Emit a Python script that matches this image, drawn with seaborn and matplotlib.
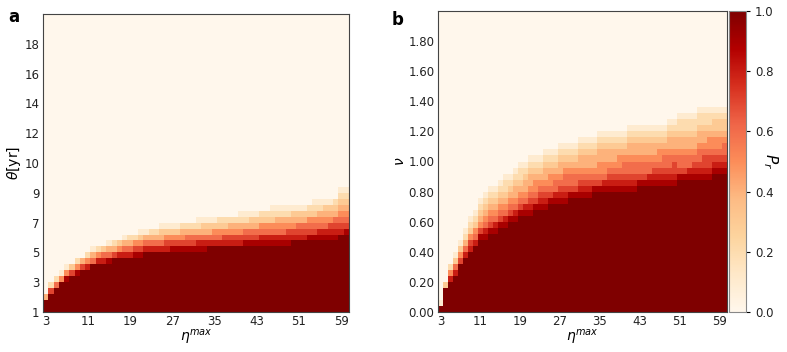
import numpy as np
import pandas as pd
import seaborn as sns
from matplotlib import pyplot as plt

# x categories (eta max) shared by both panels
eta = list(range(3, 61))
n_rows = 50

theta_ticks = ['1', '3', '5', '7', '9', '10', '12', '14', '16', '18']
nu_ticks = ['0.00', '0.20', '0.40', '0.60', '0.80', '1.00', '1.20', '1.40', '1.60', '1.80']
cbar_ticks = [0.0, 0.2, 0.4, 0.6, 0.8, 1.0]

# per column: number of fully dark cells from the bottom, then the fading
# cells above them (digits = tenths)
a_dark = [2, 3, 4, 5, 5, 6, 6, 7, 7, 8,
          8, 8, 8, 9, 9, 9, 9, 9, 9, 10,
          10, 10, 10, 10, 10, 10, 10, 10, 10, 10,
          10, 11, 11, 11, 11, 11, 11, 11, 11, 11,
          11, 11, 11, 11, 11, 11, 11, 12, 12, 12,
          12, 12, 12, 12, 12, 12, 13, 13]
a_fade = ["4", "72", "62", "51", "951", "73", "952", "74", "852", "641",
          "852", "863", "9641", "742", "853", "8641", "8642", "9752", "97531", "8641",
          "8642", "8642", "86431", "87531", "97531", "97531", "97542", "97642", "97642", "986421",
          "986431", "86431", "86531", "86532", "87532", "87542", "87542", "875421", "976421", "976431",
          "976431", "986532", "986532", "9865321", "9865421", "9865421", "9875421", "875431", "876431", "876431",
          "976532", "9765321", "9865421", "9865431", "9875431", "9876432", "87654321", "97654321"]

b_dark = [1, 4, 5, 6, 8, 9, 10, 11, 12, 12,
          13, 13, 14, 14, 15, 15, 16, 16, 16, 17,
          17, 17, 18, 18, 18, 18, 19, 19, 19, 19,
          19, 20, 20, 20, 20, 20, 20, 20, 20, 20,
          21, 21, 21, 21, 21, 21, 21, 21, 22, 22,
          22, 22, 22, 22, 22, 23, 23, 23]
b_fade = ["1", "3", "852", "8631", "7531", "86421", "875321", "865321", "9754321", "98654321",
          "97654321", "98654321", "97654321", "986543221", "97654321", "986544321", "976543221", "986544321", "9876544321", "976554321",
          "987654321", "9876544321", "976554321", "986654321", "9876544321", "9876654321", "976654321", "976654321", "9876544321", "9876544321",
          "9876544321", "976544321", "9765544321", "9865544321", "9876544321", "9876544321", "9876554321", "9876654321", "98766544321", "98766544321",
          "9766544321", "9766544321", "9866544321", "9876544321", "9876554321", "9876654321", "98766544321", "98776544321", "97665443221", "97665443221",
          "98665443221", "98765443221", "987665443221", "987765443221", "987765543221", "98765543321", "98765543321", "98766543321"]


def build_grid(dark, fade):
    cols = []
    for d, f in zip(dark, fade):
        col = [1.0] * d + [int(c) / 10 for c in f]
        col = col + [0.0] * (n_rows - len(col))
        cols.append(col)
    return pd.DataFrame(np.array(cols).T, columns=eta)


grid_a = build_grid(a_dark, a_fade)
grid_b = build_grid(b_dark, b_fade)

W, H = 787, 352
fig = plt.figure(figsize=(W / 100, H / 100), dpi=100)
ax_a = fig.add_axes([43 / W, 40 / H, 306 / W, 298 / H])
ax_b = fig.add_axes([438 / W, 40 / H, 289 / W, 301 / H])
cax = fig.add_axes([729 / W, 40 / H, 17 / W, 301 / H])

sns.heatmap(grid_a, cmap="OrRd", vmin=0, vmax=1, cbar=False, ax=ax_a,
            xticklabels=8, yticklabels=False)
sns.heatmap(grid_b, cmap="OrRd", vmin=0, vmax=1, ax=ax_b, cbar_ax=cax,
            xticklabels=8, yticklabels=False)

for ax, ticks, ylab in [(ax_a, theta_ticks, r"$\theta$[yr]"), (ax_b, nu_ticks, r"$\nu$")]:
    ax.invert_yaxis()
    ax.set_yticks(np.arange(0, n_rows, 5))
    ax.set_yticklabels(ticks, rotation=0)
    ax.tick_params(axis="both", length=0, pad=2.5, labelsize=8.5, labelcolor="#222222")
    ax.set_xticklabels(ax.get_xticklabels(), rotation=0)
    ax.set_xlabel(r"$\eta^{max}$", fontsize=10, labelpad=0)
    ax.set_ylabel(ylab, fontsize=10, labelpad=1)
    for s in ax.spines.values():
        s.set_visible(True)
        s.set_color("#444444")
        s.set_linewidth(0.8)

cb = ax_b.collections[0].colorbar
cb.set_ticks(cbar_ticks)
cb.outline.set_visible(True)
cb.outline.set_linewidth(0.8)
cb.outline.set_edgecolor("#888888")
cax.tick_params(labelsize=8.5, length=3, labelcolor="#222222")
cax.set_ylabel(r"$P_r$", rotation=270, fontsize=11, va="center")
cax.yaxis.set_label_coords(2.45, 0.5)

fig.text(8 / W, 1 - 17 / H, "a", fontsize=12, fontweight="bold", va="center")
fig.text(392 / W, 1 - 20 / H, "b", fontsize=12, fontweight="bold", va="center")

fig.savefig("out.png", dpi=100)
